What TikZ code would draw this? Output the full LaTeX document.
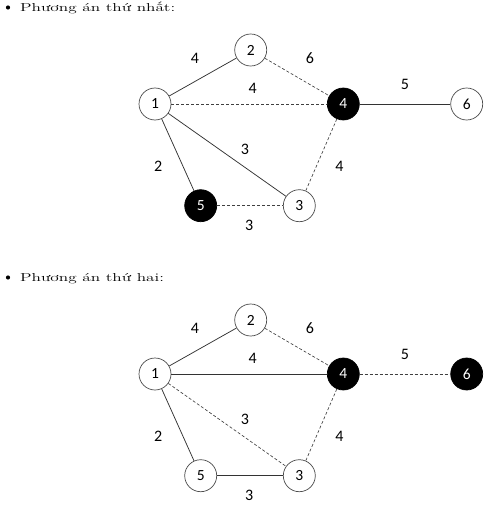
\documentclass[tikz,border=0pt]{standalone}
\usepackage{fontspec}
\newfontfamily\numfont{Carlito}
\begin{document}
\begin{tikzpicture}[x=1pt,y=1pt,
  vtx/.style={circle,draw=black!70,line width=0.7pt,minimum size=32pt,inner sep=0pt,font=\numfont\fontsize{15.5}{15.5}\selectfont,fill=white},
  blk/.style={vtx,fill=black,text=white,draw=black},
  wlab/.style={font=\numfont\fontsize{16}{16}\selectfont,inner sep=0pt},
  sol/.style={draw=black!80,line width=0.75pt},
  dsh/.style={draw=black!75,line width=0.65pt,dash pattern=on 3pt off 2pt},
  head/.style={anchor=base west,inner sep=0pt,font=\fontsize{11.5}{14}\selectfont},
  bul/.style={circle,fill=black,inner sep=0pt,minimum size=4.2pt}]
\useasboundingbox (0,0) rectangle (489,-508);
% ---------- first ----------
\node[head] (h1) at (20,-11.3) {\scalebox{1.5}[1]{Phương án thứ nhất:}};
\node[bul] (b1) at (8,-7.5) {};
\node[vtx] (a1) at (155,-104) {1};
\node[vtx] (a2) at (250.7,-50) {2};
\node[blk] (a4) at (343.3,-104) {4};
\node[vtx] (a6) at (466.7,-104) {6};
\node[blk] (a5) at (200.7,-205.7) {5};
\node[vtx] (a3) at (299.3,-205.7) {3};
\draw[sol] (a1) -- (a2);
\draw[dsh] (a2) -- (a4);
\draw[dsh] (a1) -- (a4);
\draw[sol] (a4) -- (a6);
\draw[sol] (a1) -- (a3);
\draw[sol] (a1) -- (a5);
\draw[dsh] (a5) -- (a3);
\draw[dsh] (a4) -- (a3);
\node[wlab] (la12) at (195,-58.3) {4};
\node[wlab] (la24) at (310,-58.3) {6};
\node[wlab] (la14) at (252.7,-88.3) {4};
\node[wlab] (la46) at (405,-84.3) {5};
\node[wlab] (la13) at (245,-149) {3};
\node[wlab] (la15) at (158.3,-166.7) {2};
\node[wlab] (la43) at (339.3,-166.7) {4};
\node[wlab] (la53) at (249.3,-225) {3};
% ---------- second ----------
\node[head] (h2) at (20,-281.3) {\scalebox{1.5}[1]{Phương án thứ hai:}};
\node[bul] (b2) at (8,-277.5) {};
\node[vtx] (b1n) at (155,-374) {1};
\node[vtx] (b2n) at (250.7,-320) {2};
\node[blk] (b4n) at (343.3,-374) {4};
\node[blk] (b6n) at (466.7,-374) {6};
\node[vtx] (b5n) at (200.7,-475.7) {5};
\node[vtx] (b3n) at (299.3,-475.7) {3};
\draw[sol] (b1n) -- (b2n);
\draw[dsh] (b2n) -- (b4n);
\draw[sol] (b1n) -- (b4n);
\draw[dsh] (b4n) -- (b6n);
\draw[dsh] (b1n) -- (b3n);
\draw[sol] (b1n) -- (b5n);
\draw[sol] (b5n) -- (b3n);
\draw[dsh] (b4n) -- (b3n);
\node[wlab] (lb12) at (195,-328.3) {4};
\node[wlab] (lb24) at (310,-328.3) {6};
\node[wlab] (lb14) at (252.7,-358.3) {4};
\node[wlab] (lb46) at (405,-354.3) {5};
\node[wlab] (lb13) at (245,-419) {3};
\node[wlab] (lb15) at (158.3,-436.7) {2};
\node[wlab] (lb43) at (339.3,-436.7) {4};
\node[wlab] (lb53) at (249.3,-495) {3};
\end{tikzpicture}
\end{document}
